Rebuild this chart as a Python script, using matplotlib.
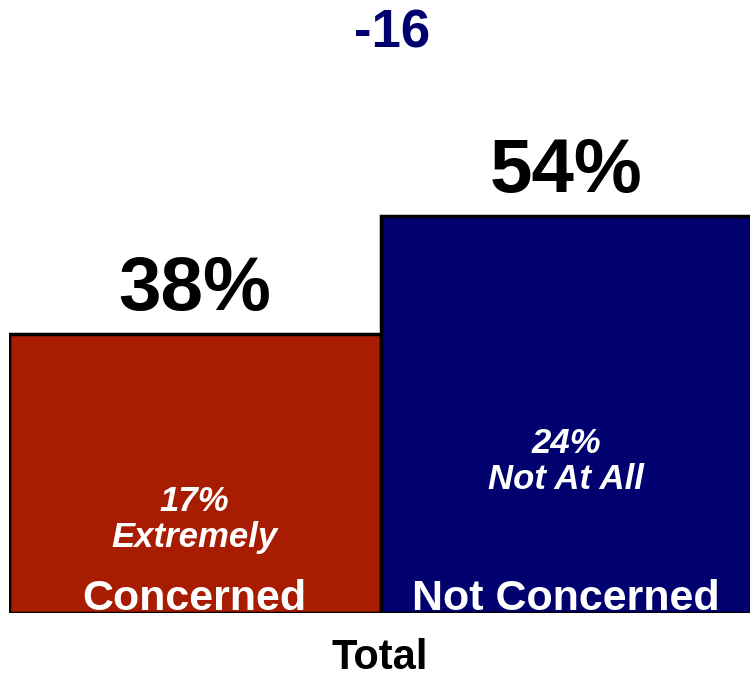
import numpy as np
import matplotlib
matplotlib.use('Agg')
import matplotlib.pyplot as plt

# Data
categories = ['Concerned', 'Not Concerned']
values = [38, 54]
sub_values = [17, 24]
sub_labels = ['Extremely', 'Not At All']
group_label = 'Total'
colors = ['#A81C02', '#00006E']

plt.rcParams['font.family'] = ['Liberation Sans', 'DejaVu Sans']

fig = plt.figure(figsize=(7.5, 6.78), dpi=100)
ax = fig.add_axes([9/750, 65/678, 743/750, 613/678])

x_pos = np.arange(len(categories))
ax.bar(x_pos, values, width=1.0, color=colors, edgecolor='black', linewidth=2.5, zorder=2)
ax.set_xlim(-0.5, 1.5)
ax.set_ylim(0, 613/7.35)
ax.axis('off')

# totals on top of bars
for i, v in enumerate(values):
    ax.annotate('{}%'.format(v), xy=(x_pos[i], v), xytext=(0, 17), textcoords='offset points',
                ha='center', va='baseline', fontsize=55, fontweight='bold', color='black')

# category names at bottom inside bars
for i, name in enumerate(categories):
    ax.text(x_pos[i], 0.45, name, ha='center', va='baseline', fontsize=31,
            fontweight='bold', color='white', zorder=3)

# sub labels
sub_y = [9.0, 16.9]
for i, v in enumerate(sub_values):
    ax.text(x_pos[i], sub_y[i], '{}%\n{}'.format(v, sub_labels[i]), ha='center', va='baseline',
            fontsize=25, fontweight='bold', fontstyle='italic', color='white',
            linespacing=1.1, zorder=3)

# difference
diff = values[0] - values[1]
ax.text(0.53, 76.9, '{}'.format(diff), ha='center', va='baseline', fontsize=38,
        fontweight='bold', color='#00006E')

fig.text(380/750, 1 - 669/678, group_label, ha='center', va='baseline', fontsize=30,
         fontweight='bold', color='black')

plt.savefig('out.png', dpi=100)
